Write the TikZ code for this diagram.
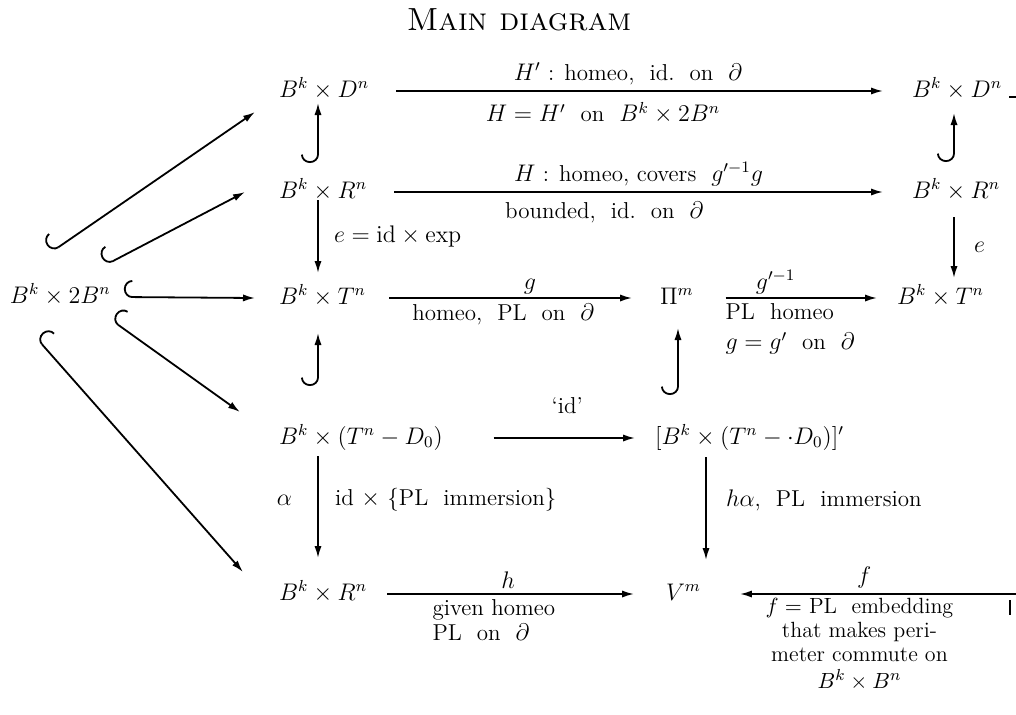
\documentclass[tikz,border=0pt]{standalone}
\usetikzlibrary{arrows.meta,calc}
\begin{document}
\begin{tikzpicture}[x=0.5pt,y=-0.5pt,
  every node/.style={font=\fontsize{11.5}{13.8}\selectfont, inner sep=0pt, outer sep=0pt},
  obj/.style={anchor=west, text height=9pt, text depth=3pt},
  mytip/.tip={Latex[length=6pt,width=3.6pt]},
  arr/.style={line width=0.9pt, -mytip},
  harr/.style={line width=0.9pt, {Hooks[right,width=17pt,length=4.2pt]}-mytip},
  mlA/.style={align=left, font=\fontsize{11.5}{12.5}\selectfont},
  mlB/.style={align=left, font=\fontsize{11.5}{12.5}\selectfont},
  mlC/.style={align=center, font=\fontsize{11}{12}\selectfont},
]
\useasboundingbox (0,0) rectangle (1016,714);
\node (title) at (519,20) {\fontsize{16}{19}\selectfont\textsc{Main diagram}};

\node[obj] (A) at (10,297) {$B^k\times 2B^n$};
\node[obj] (D1) at (279,91) {$B^k\times D^n$};
\node[obj] (R1) at (279,192) {$B^k\times R^n$};
\node[obj] (T1) at (279,298) {$B^k\times T^n$};
\node[obj] (TD) at (279,438) {$B^k\times(T^n-D_0)$};
\node[obj] (R2) at (279,594) {$B^k\times R^n$};
\node[obj] (P) at (660,298) {$\Pi^m$};
\node[obj] (TDp) at (655,438) {$[B^k\times(T^n-{\cdot}D_0)]'$};
\node[obj] (V) at (666,594) {$V^m$};
\node[obj] (D2) at (912,91) {$B^k\times D^n$};
\node[obj] (R3) at (912,192) {$B^k\times R^n$};
\node[obj] (T3) at (897,298) {$B^k\times T^n$};

\coordinate (c2) at (318,0);
\coordinate (c3a) at (678,0);
\coordinate (c3b) at (706,0);
\coordinate (c4) at (954,0);
\coordinate (fR) at (1016,594);

% vertical arrows
\draw[harr] ($(c2|-R1.north)+(0,-17)$) -- (c2|-D1.south);
\draw[arr] ($(c2|-R1.south)+(0,-4)$) -- ($(c2|-T1.north)+(0,-13)$)
  node[midway,right=8pt]{$e=\mathrm{id}\times\exp$};
\draw[harr] ($(c2|-TD.north)+(0,-40)$) -- ($(c2|-T1.south)+(0,23)$);
\draw[arr] ($(c2|-TD.south)+(0,6)$) -- ($(c2|-R2.north)+(0,-24)$)
  node[pos=0.43,left=13pt]{$\alpha$}
  node[pos=0.43,right=8.5pt]{id $\times$ \{PL\ \ immersion\}};
\draw[harr] ($(c4|-R3.north)+(0,-18)$) -- ($(c4|-D2.south)+(0,10)$);
\draw[arr] ($(c4|-R3.south)+(0,13)$) -- ($(c4|-T3.north)+(0,-8)$)
  node[midway,right=10pt]{$e$};
\draw[harr] ($(c3a|-TDp.north)+(0,-31)$) -- ($(c3a|-P.south)+(0,18)$);
\draw[arr] ($(c3b|-TDp.south)+(0,7)$) -- ($(c3b|-V.north)+(0,-22)$)
  node[pos=0.42,right=10pt]{$h\alpha$,\ \ PL\ \ immersion};

% horizontal arrows
\draw[arr] ($(D1.east)+(27,0)$) -- ($(D2.west)+(-29,0)$)
  node[pos=0.476,above=3pt]{$H'$ : homeo,\ \ id.\ \ on\ \ $\partial$}
  node[pos=0.425,below=5.5pt]{$H=H'$\ \ on\ \ $B^k\times 2B^n$};
\draw[arr] ($(R1.east)+(27,0)$) -- ($(R3.west)+(-29,0)$)
  node[pos=0.5,above=3pt]{$H$ : homeo, covers\ \ $g'^{-1}g$}
  node[pos=0.43,below=5pt]{bounded,\ \ id.\ \ on\ \ $\partial$};
\draw[harr] ($(A.east)+(13,0)$) -- ($(T1.west)+(-24,0)$);
\draw[arr] ($(T1.east)+(23,0)$) -- ($(P.west)+(-28,0)$)
  node[pos=0.58,above=2pt]{$g$}
  node[pos=0.47,below=3pt]{homeo,\ \ PL\ \ on\ \ $\partial$};
\draw[arr] ($(P.east)+(32,0)$) -- ($(T3.west)+(-20,0)$)
  node[pos=0.33,above=2pt]{$g'^{-1}$}
  node[pos=0,anchor=north west,yshift=-3pt,mlA]{PL\ \ homeo\\[2.5pt]$g=g'$\ \ on\ \ $\partial$};
\draw[arr] ($(TD.east)+(51,0)$) -- ($(TDp.west)+(-20,0)$)
  node[pos=0.52,above=12pt]{\lq id\rq};
\draw[arr] ($(R2.east)+(20,0)$) -- ($(V.west)+(-32,0)$)
  node[pos=0.49,above=3pt]{$h$}
  node[pos=0.184,anchor=north west,yshift=-3pt,mlB]{given homeo\\PL\ \ on\ \ $\partial$};
\draw[arr] (fR) -- ($(V.east)+(39,0)$)
  node[pos=0.55,above=3pt]{$f$}
  node[pos=0.567,below=2pt,mlC]{$f=$ PL\ \ embedding\\that makes peri-\\meter commute on\\[1.5pt]$B^k\times B^n$};

% diagonal hooked arrows
\draw[harr] ($(A.center)+(-9,-45)$) -- ($(D1.west)+(-24,21)$);
\draw[harr] ($(A.center)+(45,-32)$) -- ($(R1.west)+(-34,0)$);
\draw[harr] ($(A.center)+(51,23)$) -- ($(TD.west)+(-39,-26)$);
\draw[harr] ($(A.center)+(-24,41)$) -- ($(R2.west)+(-36,-22)$);

% stray marks of the print
\draw[line width=0.9pt] ($(D2.east)+(7,6)$) -- ($(fR|-D2.east)+(0,6)$);
\draw[line width=1pt] (1010,600) -- (1010,615);
\end{tikzpicture}
\end{document}
